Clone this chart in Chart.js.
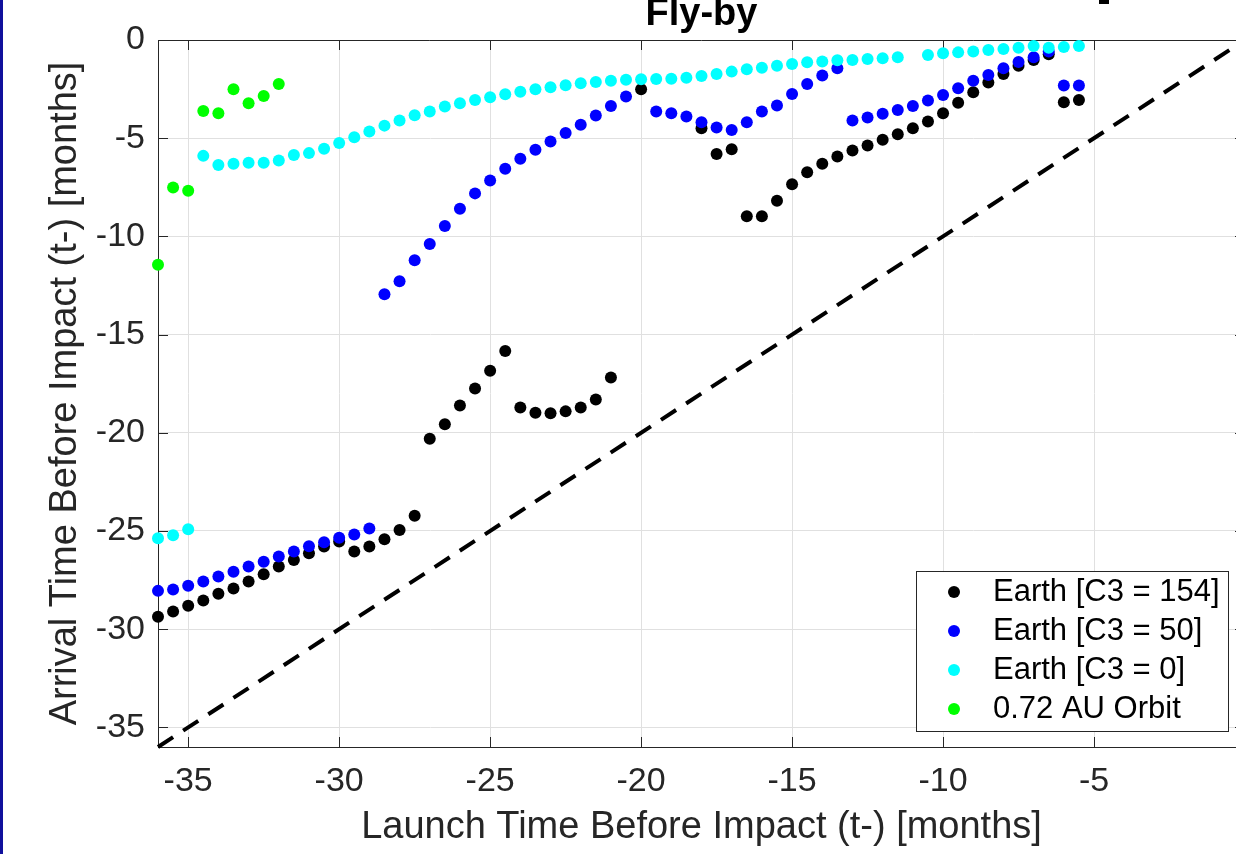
<!DOCTYPE html>
<html>
<head>
<meta charset="utf-8">
<script src="https://cdn.jsdelivr.net/npm/chart.js@4.4.1/dist/chart.umd.min.js"></script>
<style>
  html, body { margin: 0; padding: 0; background: #fff; overflow: hidden; }
  #wrap { position: relative; width: 1236px; height: 854px; overflow: hidden; }
  #chart { position: absolute; left: 0; top: 0; }
  #edge { position: absolute; left: 0; top: 0; width: 3px; height: 854px; background: #10109c; }
  #mark { position: absolute; left: 1099px; top: 0; width: 10px; height: 4px; background: #000; }
</style>
</head>
<body>
<div id="wrap">
  <canvas id="chart" width="1260" height="854"></canvas>
  <div id="edge"></div>
  <div id="mark"></div>
</div>
<script>
// launch time (x) and arrival time (y), months before impact
const c154X = [-36, -35.5, -35, -34.5, -34, -33.5, -33, -32.5, -32, -31.5, -31, -30.5, -30, -29.5, -29, -28.5, -28, -27.5,
  -27, -26.5, -26, -25.5, -25, -24.5, -24, -23.5, -23, -22.5, -22, -21.5, -21, -20,
  -18, -17.5, -17, -16.5, -16, -15.5, -15, -14.5, -14, -13.5, -13, -12.5, -12, -11.5, -11, -10.5, -10, -9.5, -9, -8.5, -8, -7.5, -7, -6.5, -6, -5.5];
const c154Y = [-29.37, -29.10, -28.81, -28.54, -28.20, -27.93, -27.57, -27.20, -26.81, -26.48, -26.13, -25.79, -25.54, -26.05, -25.79, -25.42, -24.95, -24.23,
  -20.30, -19.56, -18.61, -17.74, -16.84, -15.83, -18.71, -18.98, -19.00, -18.91, -18.71, -18.30, -17.18, -2.51,
  -4.49, -5.80, -5.56, -8.98, -8.98, -8.19, -7.34, -6.74, -6.30, -5.93, -5.63, -5.37, -5.08, -4.80, -4.49, -4.15, -3.73, -3.19, -2.66, -2.17, -1.73, -1.31, -1.02, -0.72, -3.17, -3.05];

const c50X = [-36, -35.5, -35, -34.5, -34, -33.5, -33, -32.5, -32, -31.5, -31, -30.5, -30, -29.5, -29,
  -28.5, -28, -27.5, -27, -26.5, -26, -25.5, -25, -24.5, -24, -23.5, -23, -22.5, -22, -21.5, -21, -20.5,
  -19.5, -19, -18.5, -18, -17.5, -17, -16.5, -16, -15.5, -15, -14.5, -14, -13.5,
  -13, -12.5, -12, -11.5, -11, -10.5, -10, -9.5, -9, -8.5, -8, -7.5, -7, -6.5, -6, -5.5];
const c50Y = [-28.05, -27.98, -27.79, -27.57, -27.32, -27.08, -26.81, -26.57, -26.30, -26.05, -25.78, -25.57, -25.35, -25.18, -24.88,
  -12.95, -12.29, -11.22, -10.39, -9.47, -8.59, -7.81, -7.15, -6.56, -6.05, -5.59, -5.17, -4.74, -4.32, -3.85, -3.36, -2.88,
  -3.64, -3.73, -3.90, -4.19, -4.46, -4.58, -4.19, -3.64, -3.34, -2.75, -2.24, -1.81, -1.44,
  -4.10, -3.95, -3.76, -3.56, -3.36, -3.08, -2.80, -2.46, -2.08, -1.78, -1.44, -1.12, -0.88, -0.59, -2.32, -2.32];

const c0X = [-36, -35.5, -35,
  -34.5, -34, -33.5, -33, -32.5, -32, -31.5, -31, -30.5, -30, -29.5, -29, -28.5, -28, -27.5, -27, -26.5, -26, -25.5, -25,
  -24.5, -24, -23.5, -23, -22.5, -22, -21.5, -21, -20.5, -20, -19.5, -19, -18.5, -18, -17.5, -17, -16.5, -16, -15.5, -15,
  -14.5, -14, -13.5, -13, -12.5, -12, -11.5,
  -10.5, -10, -9.5, -9, -8.5, -8, -7.5, -7, -6.5, -6, -5.5];
const c0Y = [-25.37, -25.22, -24.91,
  -5.90, -6.36, -6.30, -6.25, -6.25, -6.13, -5.85, -5.76, -5.54, -5.25, -4.95, -4.66, -4.36, -4.10, -3.83, -3.64, -3.39, -3.22, -3.05, -2.91,
  -2.76, -2.64, -2.51, -2.41, -2.30, -2.20, -2.14, -2.07, -2.03, -2.00, -1.98, -1.97, -1.92, -1.83, -1.73, -1.61, -1.49, -1.41, -1.31, -1.22,
  -1.13, -1.10, -1.03, -1.02, -0.97, -0.93, -0.88,
  -0.76, -0.68, -0.63, -0.58, -0.51, -0.46, -0.39, -0.31, -0.39, -0.36, -0.31];

const venusX = [-36, -35.5, -35, -34.5, -34, -33.5, -33, -32.5, -32];
const venusY = [-11.44, -7.51, -7.68, -3.61, -3.73, -2.51, -3.22, -2.85, -2.24];

// launch = arrival reference line
const diagX = [-36, 0];
const diagY = [-36, 0];

const xTicks = [-35, -30, -25, -20, -15, -10, -5];
const yTicks = [-35, -30, -25, -20, -15, -10, -5, 0];

const FONT = "'Liberation Sans', Arial, Helvetica, sans-serif";
const INK = '#262626';
Chart.defaults.font.family = FONT;

const pts = (xs, ys) => xs.map((x, i) => ({ x, y: ys[i] }));

// box edges + inward ticks, like the matlab axes
const axesBox = {
  id: 'axesBox',
  beforeDatasetsDraw(chart) {
    const { ctx, chartArea: a, scales: { x, y } } = chart;
    ctx.save();
    ctx.strokeStyle = INK;
    ctx.lineWidth = 1;
    ctx.beginPath();
    ctx.moveTo(a.left, a.top + .5); ctx.lineTo(a.right, a.top + .5);
    ctx.moveTo(a.right - .5, a.top); ctx.lineTo(a.right - .5, a.bottom);
    x.ticks.forEach(t => {
      const p = Math.round(x.getPixelForValue(t.value)) + .5;
      ctx.moveTo(p, a.bottom); ctx.lineTo(p, a.bottom - 10);
      ctx.moveTo(p, a.top); ctx.lineTo(p, a.top + 10);
    });
    y.ticks.forEach(t => {
      const p = Math.round(y.getPixelForValue(t.value)) + .5;
      ctx.moveTo(a.left, p); ctx.lineTo(a.left + 10, p);
      ctx.moveTo(a.right, p); ctx.lineTo(a.right - 10, p);
    });
    ctx.stroke();
    ctx.restore();
  }
};

// legend box in the lower right corner of the plot
const legendBox = {
  id: 'legendBox',
  afterDraw(chart) {
    const { ctx, chartArea: a } = chart;
    const items = chart.data.datasets.filter(d => !d.noLegend);
    const w = 312, h = 160;
    const left = Math.round(a.right - 17 - w), top = Math.round(a.bottom - 16 - h);
    ctx.save();
    ctx.fillStyle = '#fff';
    ctx.fillRect(left, top, w, h);
    ctx.strokeStyle = INK;
    ctx.lineWidth = 1;
    ctx.strokeRect(left + .5, top + .5, w, h);
    ctx.font = `31px ${FONT}`;
    ctx.textBaseline = 'middle';
    items.forEach((d, i) => {
      const cy = top + 21 + i * 39;
      ctx.fillStyle = d.backgroundColor;
      ctx.beginPath(); ctx.arc(left + 38, cy, 6, 0, Math.PI * 2); ctx.fill();
      ctx.fillStyle = '#000';
      ctx.fillText(d.label, left + 77, cy);
    });
    ctx.restore();
  }
};

const dot = (label, xs, ys, color, order) => ({
  label, data: pts(xs, ys), backgroundColor: color, borderWidth: 0, pointRadius: 6, pointHoverRadius: 6, order, clip: false
});

new Chart(document.getElementById('chart'), {
  type: 'scatter',
  data: {
    datasets: [
      dot('Earth [C3 = 154]', c154X, c154Y, '#000000', 4),
      dot('Earth [C3 = 50]', c50X, c50Y, '#0000ff', 3),
      dot('Earth [C3 = 0]', c0X, c0Y, '#00ffff', 2),
      dot('0.72 AU Orbit', venusX, venusY, '#00ff00', 1),
      { type: 'line', label: 'diag', noLegend: true, data: pts(diagX, diagY), showLine: true, fill: false,
        borderColor: '#000', borderWidth: 4, borderDash: [18, 12], pointRadius: 0, order: 0, clip: false }
    ]
  },
  options: {
    responsive: false, animation: false,
    layout: { padding: { left: 0, right: 15, top: 0, bottom: 0 } },
    plugins: {
      legend: { display: false },
      tooltip: { enabled: false },
      title: { display: true, fullSize: false, text: 'Fly-by', color: '#000', font: { size: 38, weight: 'bold', lineHeight: 1 }, padding: { top: -4, bottom: 6 } }
    },
    scales: {
      x: {
        type: 'linear', min: -36, max: 0,
        afterBuildTicks: s => { s.ticks = xTicks.map(v => ({ value: v })); },
        afterFit: s => { s.height = 107; },
        grid: { color: '#e0e0e0', drawTicks: false },
        border: { color: INK, width: 1 },
        ticks: { color: INK, font: { size: 34 }, padding: 14, maxRotation: 0 },
        title: { display: true, text: 'Launch Time Before Impact (t-) [months]', color: INK, font: { size: 38 }, padding: { top: 0, bottom: 4 } }
      },
      y: {
        type: 'linear', min: -36, max: 0,
        afterBuildTicks: s => { s.ticks = yTicks.map(v => ({ value: v })); },
        afterFit: s => { s.width = 158; },
        grid: { color: '#e0e0e0', drawTicks: false },
        border: { color: INK, width: 1 },
        ticks: { color: INK, font: { size: 34 }, padding: 13 },
        title: { display: true, text: 'Arrival Time Before Impact (t-) [months]', color: INK, font: { size: 38 }, padding: { top: 43, bottom: 0 } }
      }
    }
  },
  plugins: [axesBox, legendBox]
});
</script>
</body>
</html>
